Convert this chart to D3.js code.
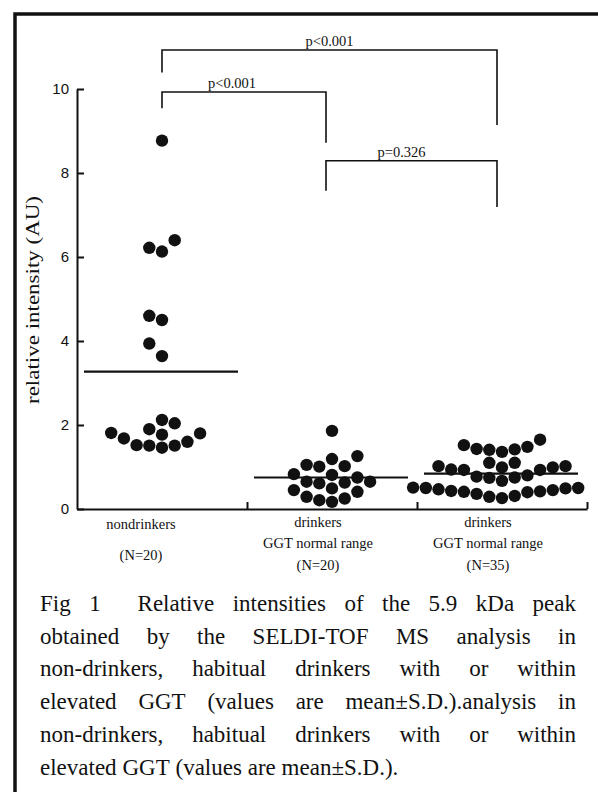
<!DOCTYPE html>
<html><head><meta charset="utf-8">
<script src="https://cdn.jsdelivr.net/npm/d3@7"></script>
<style>html,body{margin:0;padding:0;background:#fff;} svg{display:block}</style>
</head><body>
<svg id="c" width="598" height="792"></svg>
<script>
// ---------------- data ----------------
const groupKeys = ["nondrinkers", "drinkersNormal", "drinkersElevated"];
const groupLabels = [["nondrinkers"], ["drinkers", "GGT normal range"], ["drinkers", "GGT normal range"]];
const groupN = ["(N=20)", "(N=20)", "(N=35)"];
const nondrinkers = [8.77, 6.13, 6.22, 6.40, 4.50, 4.60, 3.64, 3.94,
  1.46, 1.51, 1.51, 1.52, 1.60, 1.68, 1.77, 1.81, 1.80, 1.90, 2.04, 2.12];
const drinkersNormal = [1.86, 1.19, 1.02, 1.01, 1.05, 1.26, 0.81, 0.83, 0.75,
  0.65, 0.63, 0.61, 0.65, 0.17, 0.21, 0.25, 0.29, 0.41, 0.45, 0.49];
const drinkersElevated = [1.65, 1.48, 1.42, 1.36, 1.41, 1.43, 1.52,
  1.10, 1.02, 0.99, 0.94, 0.93, 0.93, 0.99, 1.02, 1.10,
  0.77, 0.74, 0.67, 0.75, 0.80,
  0.50, 0.47, 0.43, 0.42, 0.36, 0.31, 0.50, 0.26, 0.51, 0.29, 0.40, 0.41, 0.45, 0.49];
const groupMeans = [3.27, 0.75, 0.84];
const yTicks = [0, 2, 4, 6, 8, 10];
const comparisons = [
  { from: 0, to: 2, label: "p<0.001" },
  { from: 0, to: 1, label: "p<0.001" },
  { from: 1, to: 2, label: "p=0.326" }
];
const yLabel = "relative intensity (AU)";
const captionLines = [
  "Fig 1  Relative intensities of the 5.9 kDa peak",
  "obtained by the SELDI-TOF MS analysis in",
  "non-drinkers, habitual drinkers with or within",
  "elevated GGT (values are mean\u00b1S.D.).analysis in",
  "non-drinkers, habitual drinkers with or within",
  "elevated GGT (values are mean\u00b1S.D.)."
];
const groupValues = [nondrinkers, drinkersNormal, drinkersElevated];

// ---------------- layout ----------------
const svg = d3.select("#c");
const ink = "#111";
const serif = "'Liberation Serif','Times New Roman',serif";
const sans = "'Liberation Sans',Arial,sans-serif";

svg.append("rect").attr("x", 15).attr("y", 14).attr("width", 800).attr("height", 900)
  .attr("fill", "none").attr("stroke", ink).attr("stroke-width", 3.5);

const y = d3.scaleLinear().domain([0, 10]).range([509, 89]);
const x = d3.scaleBand().domain(groupKeys).range([77, 587]).padding(0);
const xEdge = d3.scaleLinear().domain([0, groupKeys.length]).range([77, 587]);
const cx = i => x(groupKeys[i]) + x.bandwidth() / 2;

// y axis
const yAxis = svg.append("g").attr("transform", "translate(77,0)")
  .call(d3.axisLeft(y).tickValues(yTicks).tickSizeInner(-7).tickSizeOuter(0).tickPadding(8));
yAxis.select(".domain").attr("stroke", ink).attr("stroke-width", 2);
yAxis.selectAll(".tick line").attr("stroke", ink).attr("stroke-width", 2);
yAxis.selectAll(".tick text").attr("font-family", sans).attr("font-size", 15).attr("fill", ink);

// x axis
const xAxis = svg.append("g").attr("transform", "translate(0,509)")
  .call(d3.axisBottom(xEdge).tickValues([1, 2, 3]).tickSizeInner(-7).tickSizeOuter(0).tickFormat(""));
xAxis.select(".domain").attr("stroke", ink).attr("stroke-width", 2);
xAxis.selectAll(".tick line").attr("stroke", ink).attr("stroke-width", 2);

// y label
svg.append("text").attr("transform", "translate(39,300) rotate(-90)")
  .attr("text-anchor", "middle").attr("font-family", serif).attr("font-size", 18)
  .attr("fill", ink).attr("textLength", 208).attr("lengthAdjust", "spacingAndGlyphs").text(yLabel);

// group labels
const labelShift = [-21, -14, -14];
const labelRows = [[529], [527, 548], [527, 548]];
const nRowY = [560, 570, 570];
groupLabels.forEach((lines, i) => {
  lines.forEach((t, j) => {
    svg.append("text").attr("x", cx(i) + labelShift[i]).attr("y", labelRows[i][j])
      .attr("text-anchor", "middle").attr("font-family", serif).attr("font-size", 14.5)
      .attr("fill", ink).text(t);
  });
  svg.append("text").attr("x", cx(i) + labelShift[i]).attr("y", nRowY[i])
    .attr("text-anchor", "middle").attr("font-family", serif).attr("font-size", 14.5)
    .attr("fill", ink).text(groupN[i]);
});

// swarm layout
const slotW = 12.7, minGap = 13, r = 6.2;
function swarm(values) {
  const placed = [];
  values.slice().sort((a, b) => a - b).forEach(v => {
    for (let i = 0; ; i++) {
      const k = i === 0 ? 0 : (i % 2 === 1 ? -Math.ceil(i / 2) : i / 2);
      const ok = placed.every(p => p.k !== k || Math.abs(y(p.v) - y(v)) >= minGap);
      if (ok) { placed.push({ v, k }); break; }
    }
  });
  return placed;
}
groupValues.forEach((vals, i) => {
  const pts = swarm(vals);
  svg.append("g").selectAll("circle").data(pts).join("circle")
    .attr("cx", d => cx(i) + d.k * slotW).attr("cy", d => y(d.v)).attr("r", r).attr("fill", ink);
  svg.append("line").attr("x1", cx(i) - 78).attr("x2", cx(i) + 76)
    .attr("y1", y(groupMeans[i])).attr("y2", y(groupMeans[i]))
    .attr("stroke", ink).attr("stroke-width", 2.2);
});

// comparison brackets
const bracketTop = [10.93, 9.93, 8.29];
const legBottom = [[10.39, 9.14], [9.54, 8.72], [7.58, 7.19]];
const legShift = [0, -6, -5];
const labelDx = [0, -12, -10];
comparisons.forEach((c, i) => {
  const x1 = cx(c.from) + legShift[c.from], x2 = cx(c.to) + legShift[c.to];
  const path = d3.path();
  path.moveTo(x1, y(legBottom[i][0])); path.lineTo(x1, y(bracketTop[i]));
  path.lineTo(x2, y(bracketTop[i])); path.lineTo(x2, y(legBottom[i][1]));
  svg.append("path").attr("d", path.toString()).attr("fill", "none")
    .attr("stroke", ink).attr("stroke-width", 1.6);
  svg.append("text").attr("x", (x1 + x2) / 2 + labelDx[i]).attr("y", y(bracketTop[i]) - 4)
    .attr("text-anchor", "middle").attr("font-family", serif).attr("font-size", 14.5)
    .attr("fill", ink).text(c.label);
});

// caption (justified)
const capX0 = 40, capX1 = 576, capY0 = 611, capDY = 32.7;
captionLines.forEach((line, li) => {
  const words = line.split(/ +/);
  const gapsW = line.split(/\S+/).slice(1, -1).map(s => s.length);
  const g = svg.append("g");
  const nodes = words.map(w => g.append("text").attr("font-family", serif)
    .attr("font-size", 23).attr("fill", ink).attr("y", capY0 + li * capDY).text(w));
  const widths = nodes.map(n => n.node().getComputedTextLength());
  const total = d3.sum(widths);
  const last = li === captionLines.length - 1;
  const weightSum = d3.sum(gapsW);
  const unit = last ? 5.8 : (capX1 - capX0 - total) / weightSum;
  let xx = capX0;
  nodes.forEach((n, k) => {
    n.attr("x", xx);
    xx += widths[k] + (k < gapsW.length ? gapsW[k] * unit : 0);
  });
});
</script>
</body></html>
